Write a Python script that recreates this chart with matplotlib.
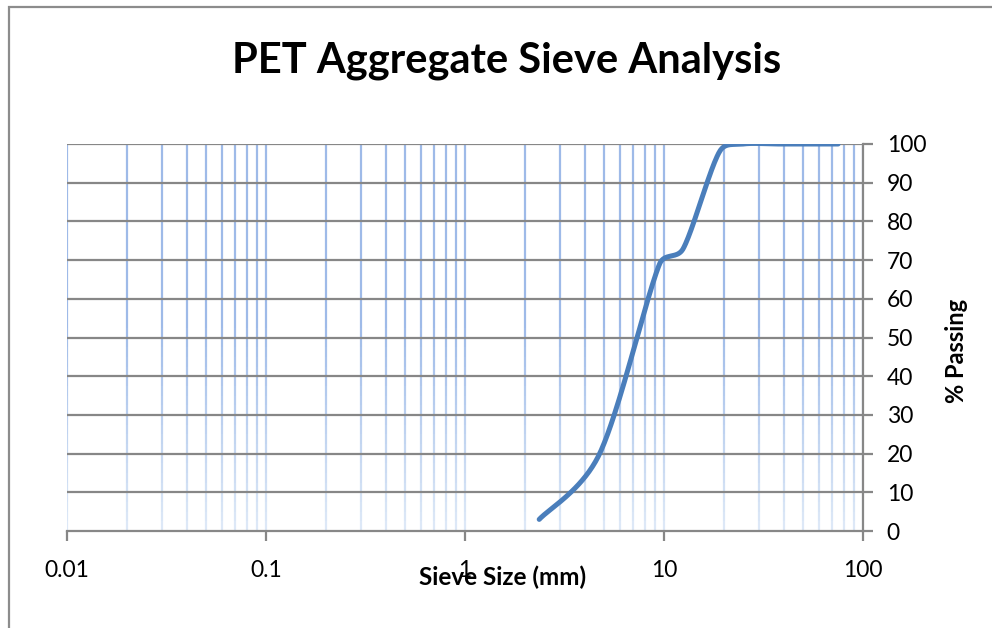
import numpy as np
import matplotlib
matplotlib.use("Agg")
import matplotlib.pyplot as plt
from matplotlib.collections import LineCollection
from matplotlib.patches import Rectangle
from matplotlib.ticker import LogLocator, FixedLocator, NullLocator

plt.rcParams['font.family'] = ['Lato', 'DejaVu Sans']

# sieve data
sieve_mm = [2.36, 4.75, 9.5, 12.5, 19.0, 25.0, 37.5, 50.0, 75.0]
passing = [3, 20, 69, 73, 98, 100, 100, 100, 100]

x_ticks = [0.01, 0.1, 1, 10, 100]
x_ticklabels = ["0.01", "0.1", "1", "10", "100"]
y_ticks = list(range(0, 101, 10))

LINE = "#4A7EBB"
HGRID = "#878787"
VGRID_TOP = np.array([0.62, 0.73, 0.91])
VGRID_BOT = np.array([0.88, 0.92, 0.97])

# pixel scale of one decade / one percent, so smoothing works in screen space
PX_DEC = 199.0
PX_PCT = 3.87
ARM_MAX = 0.45   # control arm limited to this share of the adjacent segment


def smooth(xs, ys, n=40):
    """Catmull-Rom style Bezier with arms clipped on short segments."""
    p = np.column_stack([np.log10(xs) * PX_DEC, np.asarray(ys, float) * PX_PCT])
    m = len(p)
    c_out, c_in = p.copy(), p.copy()
    for i in range(m):
        a = p[i - 1] if i > 0 else p[i]
        b = p[i + 1] if i < m - 1 else p[i]
        arm = (b - a) / 6
        alen = np.hypot(*arm)
        if alen == 0:
            continue
        ln = np.hypot(*(b - p[i]))
        lp = np.hypot(*(p[i] - a))
        c_out[i] = p[i] + arm * min(1.0, ARM_MAX * ln / alen)
        c_in[i] = p[i] - arm * min(1.0, ARM_MAX * lp / alen)
    t = np.linspace(0, 1, n)[:, None]
    pts = []
    for i in range(m - 1):
        p1, c1, c2, p2 = p[i], c_out[i], c_in[i + 1], p[i + 1]
        seg = (1 - t) ** 3 * p1 + 3 * (1 - t) ** 2 * t * c1 + 3 * (1 - t) * t ** 2 * c2 + t ** 3 * p2
        pts.append(seg if i == 0 else seg[1:])
    pts = np.vstack(pts)
    return 10 ** (pts[:, 0] / PX_DEC), pts[:, 1] / PX_PCT


fig = plt.figure(figsize=(9.92, 6.28), dpi=100)
fig.patches.append(Rectangle((9 / 992, -0.1), 1.2, 1 - 7 / 628 + 0.1, transform=fig.transFigure,
                             fill=False, edgecolor="#8C8C8C", linewidth=1.6))

ax = fig.add_axes([67 / 992, 1 - 531 / 628, (863 - 67) / 992, (531 - 144) / 628])
ax.set_xscale("log")
ax.set_xlim(0.01, 100)
ax.set_ylim(0, 100)

# vertical log grid, fading toward the bottom
vx = [v for v in LogLocator(base=10, subs=np.arange(1, 10)).tick_values(0.01, 100) if 0.01 <= v <= 100]
nseg = 40
ys = np.linspace(100, 0, nseg + 1)
segs, cols = [], []
for v in vx:
    for k in range(nseg):
        segs.append([(v, ys[k]), (v, ys[k + 1])])
        f = max(0.0, (k / nseg - 0.45) / 0.55)
        cols.append(VGRID_TOP * (1 - f) + VGRID_BOT * f)
ax.add_collection(LineCollection(segs, colors=cols, linewidths=1.6, zorder=1))

# horizontal grid
for v in y_ticks[1:]:
    ax.axhline(v, color=HGRID, linewidth=1.6, zorder=1.5)

sx, sy = smooth(sieve_mm, passing)
ax.plot(sx, sy, color=LINE, linewidth=3.6, solid_capstyle="round", zorder=3)

for s in ["left", "top"]:
    ax.spines[s].set_visible(False)
for s in ["bottom", "right"]:
    ax.spines[s].set_color(HGRID)
    ax.spines[s].set_linewidth(1.6)

ax.xaxis.set_major_locator(FixedLocator(x_ticks))
ax.xaxis.set_minor_locator(NullLocator())
ax.set_xticklabels(x_ticklabels)
ax.yaxis.tick_right()
ax.yaxis.set_label_position("right")
ax.set_yticks(y_ticks)
ax.tick_params(axis="both", which="major", direction="out", length=7, width=1.6,
               color=HGRID, labelsize=16.5, labelcolor="black")
ax.tick_params(axis="x", pad=14)
ax.tick_params(axis="y", pad=10)
for lab in ax.get_yticklabels():
    lab.set_horizontalalignment("left")

fig.text(503 / 992, 1 - 577 / 628, "Sieve Size (mm)", ha="center", va="center",
         fontsize=17.5, fontweight="bold")
fig.text(956 / 992, 1 - 351 / 628, "% Passing", ha="center", va="center",
         rotation=90, fontsize=17, fontweight="bold")
fig.text(507 / 992, 1 - 61 / 628, "PET Aggregate Sieve Analysis", ha="center", va="center",
         fontsize=30, fontweight="bold")

fig.savefig("out.png", dpi=100)
